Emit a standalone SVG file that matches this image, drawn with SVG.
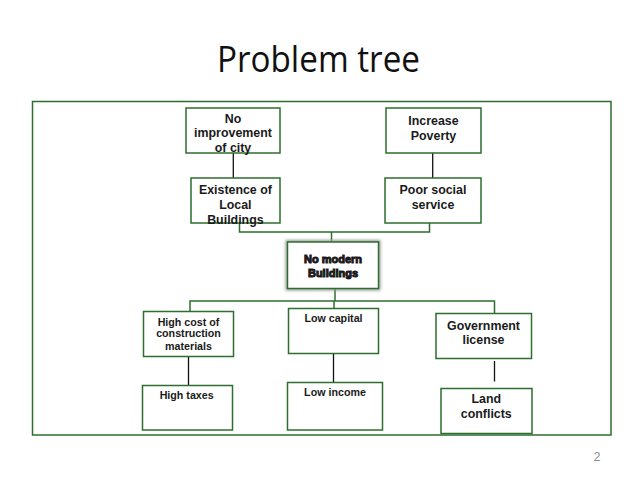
<svg xmlns="http://www.w3.org/2000/svg" width="638" height="479" viewBox="0 0 638 479">
<style>
.box{fill:#fff;stroke:#2e6e2e;stroke-width:1.5}
.g{fill:none;stroke:#2e6e2e;stroke-width:1.5}
.k{fill:none;stroke:#111;stroke-width:1.3}
.t{font-family:"Liberation Sans",Arial,sans-serif;font-weight:bold;fill:#1a1a1a;text-anchor:middle}
.l{font-size:12.4px}
.s{font-size:10.7px}
</style>
<defs>
<filter id="sh" x="-20%" y="-20%" width="140%" height="140%"><feGaussianBlur stdDeviation="1.6"/></filter>
</defs>
<rect x="0" y="0" width="638" height="479" fill="#fff"/>
<text x="318.5" y="72" font-family="'Open Sans',Lato,sans-serif" font-size="36" fill="#111" text-anchor="middle" textLength="203" lengthAdjust="spacingAndGlyphs">Problem tree</text>
<rect id="frame" x="32.5" y="101.5" width="578.5" height="333.5" class="g"/>
<g id="connectors">
<line x1="233.3" y1="153" x2="233.3" y2="178" class="k"/>
<line x1="432.7" y1="153" x2="432.7" y2="178" class="k"/>
<polyline points="239.5,223 239.5,232 429.5,232 429.5,223" class="g"/>
<line x1="331.5" y1="232" x2="331.5" y2="242" class="g"/>
<line x1="335" y1="288.5" x2="335" y2="301" class="g"/>
<polyline points="190,311.5 190,301 494.5,301 494.5,313.5" class="g"/>
<line x1="334" y1="301" x2="334" y2="308.5" class="g"/>
<line x1="188.5" y1="356" x2="188.5" y2="385.5" class="k"/>
<line x1="333.5" y1="353.5" x2="333.5" y2="382.5" class="k"/>
<line x1="494.5" y1="361" x2="494.5" y2="381.5" class="k"/>
</g>
<g id="noImprovement">
<rect x="186" y="108" width="94" height="45" class="box"/>
<text class="t l" x="233" y="122.7">No</text>
<text class="t l" x="233" y="137">improvement</text>
<text class="t l" x="233" y="152">of city</text>
</g>
<g id="increasePoverty">
<rect x="386" y="108" width="95" height="45" class="box"/>
<text class="t l" x="433.5" y="124.5">Increase</text>
<text class="t l" x="433.5" y="139.5">Poverty</text>
</g>
<g id="existence">
<rect x="191" y="178" width="89" height="45" class="box"/>
<text class="t l" x="235.4" y="193.5">Existence of</text>
<text class="t l" x="235.4" y="208.5">Local</text>
<text class="t l" x="235.4" y="223.5">Buildings</text>
</g>
<g id="poorSocial">
<rect x="385" y="178" width="96" height="45" class="box"/>
<text class="t l" x="433" y="193.5">Poor social</text>
<text class="t l" x="433" y="208.5">service</text>
</g>
<g id="noModern">
<rect x="287.5" y="242" width="91" height="46.5" fill="none" stroke="#9a9a9a" stroke-width="4" filter="url(#sh)"/>
<rect x="287.5" y="242" width="91" height="46.5" class="box"/>
<text class="t" x="333" y="263" font-size="11" stroke="#1a1a1a" stroke-width="1">No modern</text>
<text class="t" x="333" y="276.5" font-size="11" stroke="#1a1a1a" stroke-width="1">Buildings</text>
</g>
<g id="highCost">
<rect x="143.5" y="311.5" width="90" height="45" class="box"/>
<text class="t s" x="188.5" y="325.5">High cost of</text>
<text class="t s" x="188.5" y="337">construction</text>
<text class="t s" x="188.5" y="349.5">materials</text>
</g>
<g id="lowCapital">
<rect x="288.5" y="308.5" width="90" height="45" class="box"/>
<text class="t s" x="333.5" y="322">Low capital</text>
</g>
<g id="government">
<rect x="436" y="313.5" width="95.5" height="45" class="box"/>
<text class="t l" x="483.5" y="329.5">Government</text>
<text class="t l" x="483.5" y="343.8">license</text>
</g>
<g id="highTaxes">
<rect x="142.5" y="385.5" width="90" height="44.5" class="box"/>
<text class="t s" x="186.7" y="399">High taxes</text>
</g>
<g id="lowIncome">
<rect x="287.5" y="382.5" width="95" height="47.5" class="box"/>
<text class="t s" x="335" y="395.8">Low income</text>
</g>
<g id="landConflicts">
<rect x="441" y="388.5" width="91" height="45" class="box"/>
<text class="t l" x="486.3" y="403.2">Land</text>
<text class="t l" x="486.3" y="418.2">conflicts</text>
</g>
<text x="597" y="461" font-family="'Liberation Sans',Arial,sans-serif" font-size="12" fill="#8a8a8a" text-anchor="middle">2</text>
</svg>
